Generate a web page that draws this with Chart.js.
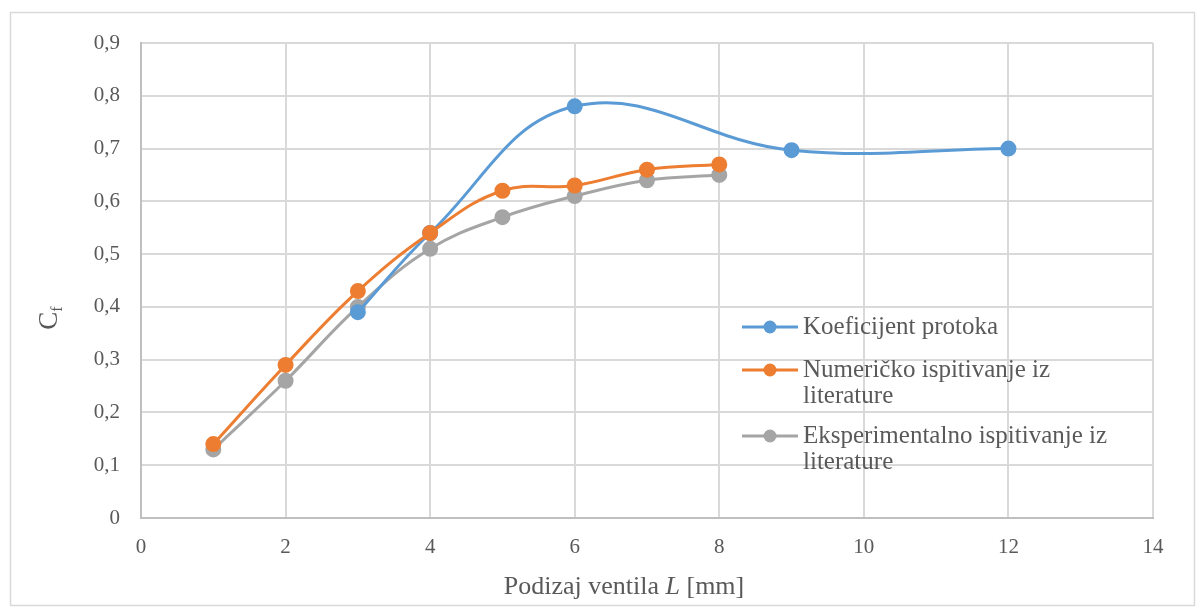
<!DOCTYPE html>
<html>
<head>
<meta charset="utf-8">
<script src="https://cdn.jsdelivr.net/npm/chart.js@4/dist/chart.umd.min.js"></script>
<style>
  html, body { margin: 0; padding: 0; background: #fff; }
  #wrap { width: 1204px; height: 610px; position: relative; }
</style>
</head>
<body>
<div id="wrap"><canvas id="chart"></canvas></div>
<script>
// data
const blueX = [3, 4, 6, 9, 12];
const blueY = [0.39, 0.54, 0.78, 0.697, 0.70];
const numX = [1, 2, 3, 4, 5, 6, 7, 8];
const numY = [0.14, 0.29, 0.43, 0.54, 0.62, 0.63, 0.66, 0.67];
const expX = [1, 2, 3, 4, 5, 6, 7, 8];
const expY = [0.13, 0.26, 0.40, 0.51, 0.57, 0.61, 0.64, 0.65];
const seriesNames = [
  ['Koeficijent protoka'],
  ['Numeričko ispitivanje iz', 'literature'],
  ['Eksperimentalno ispitivanje iz', 'literature']
];
const colors = ['#5b9bd5', '#ed7d31', '#a5a5a5'];

const FONT = "'Liberation Serif', 'Times New Roman', serif";
const TXT = '#595959';

function pts(xs, ys) {
  return xs.map((x, i) => ({ x: x, y: ys[i] }));
}

function series(i, data, order) {
  return {
    label: seriesNames[i].join(' '),
    data: data,
    borderColor: colors[i],
    backgroundColor: colors[i],
    pointBackgroundColor: colors[i],
    pointBorderColor: colors[i],
    borderWidth: 3,
    pointRadius: 6.5,
    pointHoverRadius: 6.5,
    tension: 0.4,
    showLine: true,
    order: order,
  };
}

// frame, axis titles and legend
const decor = {
  id: 'decor',
  beforeDraw(chart) {
    const ctx = chart.ctx;
    ctx.save();
    ctx.fillStyle = '#fff';
    ctx.fillRect(0, 0, chart.width, chart.height);
    ctx.strokeStyle = '#d9d9d9';
    ctx.lineWidth = 1.5;
    ctx.strokeRect(10.5, 12.5, 1184, 593);
    ctx.restore();
  },
  afterDraw(chart) {
    const ctx = chart.ctx;
    ctx.save();
    ctx.fillStyle = TXT;
    ctx.textBaseline = 'alphabetic';

    // x title with italic L
    const parts = [['Podizaj ventila ', ''], ['L', 'italic '], [' [mm]', '']];
    let total = 0;
    parts.forEach(p => { ctx.font = p[1] + '26px ' + FONT; total += ctx.measureText(p[0]).width; });
    let x = 624 - total / 2;
    parts.forEach(p => {
      ctx.font = p[1] + '26px ' + FONT;
      ctx.fillText(p[0], x, 594);
      x += ctx.measureText(p[0]).width;
    });

    // y title C_f
    ctx.translate(57, 318);
    ctx.rotate(-Math.PI / 2);
    ctx.font = '27px ' + FONT;
    const cw = ctx.measureText('C').width;
    ctx.font = '16px ' + FONT;
    const fw = ctx.measureText('f').width;
    ctx.font = '27px ' + FONT;
    ctx.fillText('C', -(cw + fw) / 2, 0);
    ctx.font = '16px ' + FONT;
    ctx.fillText('f', -(cw + fw) / 2 + cw, 5);
    ctx.setTransform(1, 0, 0, 1, 0, 0);

    // legend
    const rows = [327, 370, 436];
    ctx.font = '25px ' + FONT;
    ctx.textBaseline = 'middle';
    seriesNames.forEach((lines, i) => {
      const y = rows[i];
      ctx.strokeStyle = colors[i];
      ctx.lineWidth = 3;
      ctx.beginPath();
      ctx.moveTo(742, y);
      ctx.lineTo(798, y);
      ctx.stroke();
      ctx.fillStyle = colors[i];
      ctx.beginPath();
      ctx.arc(770, y, 6.5, 0, Math.PI * 2);
      ctx.fill();
      ctx.fillStyle = TXT;
      lines.forEach((t, j) => ctx.fillText(t, 803, y + j * 26));
    });
    ctx.restore();
  }
};

new Chart(document.getElementById('chart'), {
  type: 'scatter',
  data: {
    datasets: [
      series(0, pts(blueX, blueY), 2),
      series(1, pts(numX, numY), 1),
      series(2, pts(expX, expY), 3),
    ],
  },
  options: {
    responsive: true,
    maintainAspectRatio: false,
    animation: false,
    events: [],
    layout: { padding: { left: 0, top: 43, right: 51, bottom: 0 } },
    plugins: { legend: { display: false }, tooltip: { enabled: false } },
    scales: {
      x: {
        type: 'linear',
        min: 0,
        max: 14,
        afterFit(s) { s.height = 92; },
        ticks: {
          stepSize: 2,
          padding: 17,
          color: TXT,
          font: { family: FONT, size: 21 },
        },
        grid: { color: '#d9d9d9', lineWidth: 2, drawTicks: false },
        border: { color: '#bfbfbf', width: 2 },
      },
      y: {
        min: 0,
        max: 0.9,
        afterFit(s) { s.width = 141; },
        ticks: {
          stepSize: 0.1,
          padding: 21,
          color: TXT,
          font: { family: FONT, size: 21 },
          callback: v => (v === 0 ? '0' : v.toFixed(1).replace('.', ',')),
        },
        grid: { color: '#d9d9d9', lineWidth: 2, drawTicks: false },
        border: { color: '#bfbfbf', width: 2 },
      },
    },
  },
  plugins: [decor],
});
</script>
</body>
</html>
